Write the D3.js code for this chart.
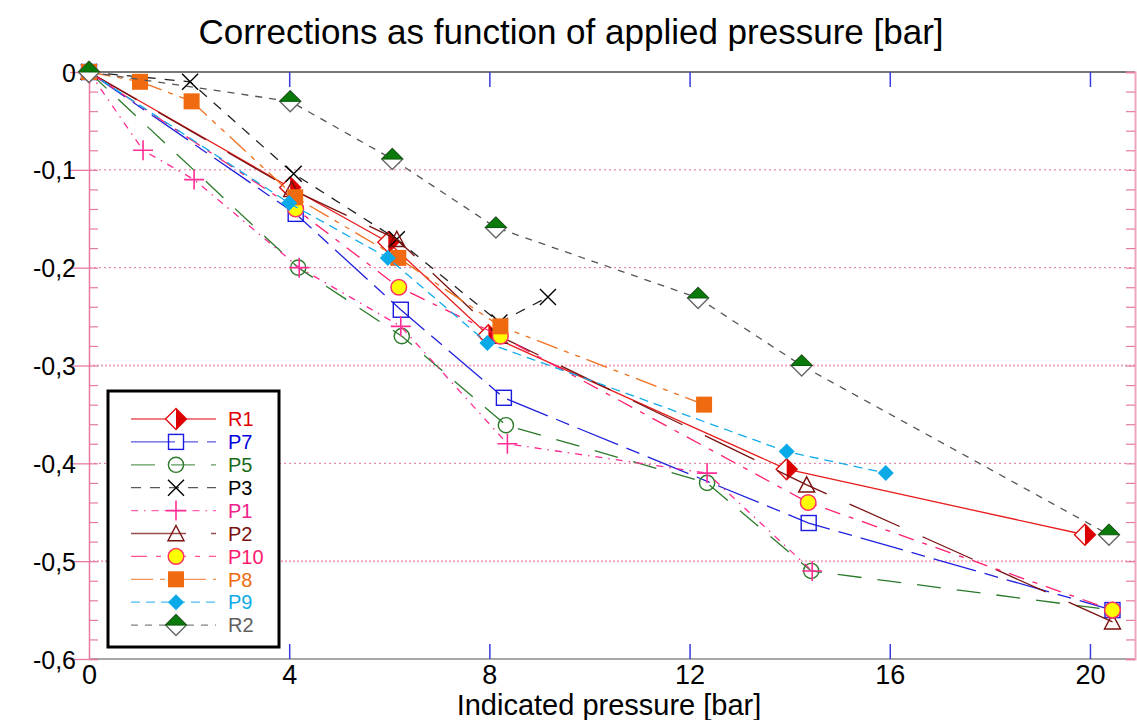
<!DOCTYPE html>
<html>
<head>
<meta charset="utf-8">
<script src="https://cdn.jsdelivr.net/npm/d3@7"></script>
<style>
  body { margin: 0; background: #ffffff; }
  svg { display: block; }
</style>
</head>
<body>
<svg id="chart" width="1137" height="720"></svg>
<script>
// ---- data: indicated pressure [bar] and correction [bar] per instrument ----
const seriesNames = ["R1", "P7", "P5", "P3", "P1", "P2", "P10", "P8", "P9", "R2"];

const r1X  = [0, 4.02, 5.98, 7.98, 13.94, 19.9];
const r1Y  = [0, -0.118, -0.174, -0.269, -0.406, -0.473];

const p7X  = [0, 4.13, 6.23, 8.29, 14.38, 20.45];
const p7Y  = [0, -0.145, -0.243, -0.333, -0.461, -0.55];

const p5X  = [0, 4.18, 6.25, 8.33, 12.35, 14.43, 20.45];
const p5Y  = [0, -0.2, -0.27, -0.361, -0.42, -0.51, -0.55];

const p3X  = [0, 2.02, 4.09, 6.15, 8.2, 9.17];
const p3Y  = [0, -0.01, -0.104, -0.171, -0.256, -0.23];

const p1X  = [0, 1.08, 2.1, 4.2, 6.23, 8.36, 12.35, 14.45];
const p1Y  = [0, -0.08, -0.11, -0.2, -0.26, -0.38, -0.41, -0.51];

const p2X  = [0, 4.05, 6.15, 8.2, 14.34, 20.45];
const p2Y  = [0, -0.12, -0.171, -0.27, -0.422, -0.562];

const p10X = [0, 4.13, 6.19, 8.22, 14.37, 20.45];
const p10Y = [0, -0.14, -0.22, -0.27, -0.44, -0.55];

const p8X  = [0, 1.02, 2.05, 4.12, 6.18, 8.22, 12.29];
const p8Y  = [0, -0.01, -0.03, -0.128, -0.19, -0.26, -0.34];

const p9X  = [0, 4.0, 5.97, 7.96, 13.94, 15.92];
const p9Y  = [0, -0.134, -0.19, -0.277, -0.388, -0.41];

const r2X  = [0, 4.02, 6.06, 8.13, 12.17, 14.24, 20.38];
const r2Y  = [0, -0.03, -0.089, -0.159, -0.231, -0.3, -0.473];

const xTickValues = [0, 4, 8, 12, 16, 20];
const yTickValues = [0, -0.1, -0.2, -0.3, -0.4, -0.5, -0.6];
const gridValues  = [-0.1, -0.2, -0.3, -0.4, -0.5];
const denseGrid   = [-0.3, -0.5];

// ---- appearance of each instrument ----
const styles = {
  R1:  { line: "#e81c1c", dash: null,             marker: "halfDiamond", text: "#e00000" },
  P7:  { line: "#2020dd", dash: "44,9,14,9",      marker: "square",      text: "#0000e0" },
  P5:  { line: "#2a7a2a", dash: "24,16",          marker: "circle",      text: "#1a6b1a" },
  P3:  { line: "#222222", dash: "10,9",           marker: "cross",       text: "#000000" },
  P1:  { line: "#ff2d95", dash: "7,6,1.5,6",      marker: "plus",        text: "#f0208a" },
  P2:  { line: "#7a1212", dash: "55,25",          marker: "triangle",    text: "#7a1010" },
  P10: { line: "#ff2070", dash: "16,9,5,9",       marker: "dot",         text: "#ff1a6e" },
  P8:  { line: "#f07020", dash: "22,7,5,7,5,7",   marker: "filledSquare",text: "#f06a10" },
  P9:  { line: "#12aaea", dash: "9,6",            marker: "smallDiamond",text: "#10aae8" },
  R2:  { line: "#555555", dash: "7,7",            marker: "greenDiamond",text: "#606060" }
};

const xsBy = { R1: r1X, P7: p7X, P5: p5X, P3: p3X, P1: p1X, P2: p2X, P10: p10X, P8: p8X, P9: p9X, R2: r2X };
const ysBy = { R1: r1Y, P7: p7Y, P5: p5Y, P3: p3Y, P1: p1Y, P2: p2Y, P10: p10Y, P8: p8Y, P9: p9Y, R2: r2Y };

const series = seriesNames.map(name => ({
  name,
  style: styles[name],
  points: xsBy[name].map((v, i) => ({ x: v, y: ysBy[name][i] }))
}));

// ---- scales ----
const x = d3.scaleLinear().domain([0, 20.9]).range([89, 1135]);
const y = d3.scaleLinear().domain([0, -0.6]).range([72, 659]);

const svg = d3.select("#chart");
const pink = "#e77aa2";
const isDense = d => denseGrid.some(v => Math.abs(v - d) < 1e-9);

// ---- horizontal dotted grid ----
svg.append("g").selectAll("line").data(gridValues).join("line")
  .attr("x1", x(0)).attr("x2", x.range()[1])
  .attr("y1", d => y(d)).attr("y2", d => y(d))
  .attr("stroke", d => isDense(d) ? "#f0a8c2" : "#e4709a")
  .attr("stroke-width", d => isDense(d) ? 2 : 1)
  .attr("stroke-dasharray", d => isDense(d) ? "2,2" : "2,3");

// ---- frame: top and bottom lines with blue ticks ----
const xr = x.range();
svg.append("line").attr("x1", xr[0]).attr("x2", xr[1]).attr("y1", y(0)).attr("y2", y(0))
  .attr("stroke", "#4a4a4a").attr("stroke-width", 1.5);
svg.append("line").attr("x1", xr[0]).attr("x2", xr[1]).attr("y1", y(-0.6)).attr("y2", y(-0.6))
  .attr("stroke", "#8a8a8a").attr("stroke-width", 1.5);

const topTicks = d3.axisTop(x).tickValues(xTickValues.filter(v => v > 0)).tickSize(-15).tickFormat("");
svg.append("g").attr("transform", `translate(0,${y(0)})`).call(topTicks)
  .call(g => g.select(".domain").remove())
  .call(g => g.selectAll(".tick line").attr("stroke", "#3a3ae0").attr("stroke-width", 1.5));

const bottomTicks = d3.axisBottom(x).tickValues(xTickValues.filter(v => v > 0)).tickSize(-15).tickFormat("");
svg.append("g").attr("transform", `translate(0,${y(-0.6)})`).call(bottomTicks)
  .call(g => g.select(".domain").remove())
  .call(g => g.selectAll(".tick line").attr("stroke", "#3a3ae0").attr("stroke-width", 1.5));

// ---- left and right pink axes with minor ticks ----
const minorTicks = d3.range(0, 31).map(i => -i * 0.02);
const leftMinor = d3.axisRight(y).tickValues(minorTicks).tickSize(9).tickFormat("");
svg.append("g").attr("transform", `translate(${xr[0]},0)`).call(leftMinor)
  .call(g => g.select(".domain").attr("stroke", pink).attr("stroke-width", 1.5))
  .call(g => g.selectAll(".tick line").attr("stroke", pink).attr("stroke-width", 1.2));

const rightMinor = d3.axisLeft(y).tickValues(minorTicks).tickSize(9).tickFormat("");
svg.append("g").attr("transform", `translate(${xr[1]},0)`).call(rightMinor)
  .call(g => g.select(".domain").attr("stroke", "#eea6c0").attr("stroke-width", 2))
  .call(g => g.selectAll(".tick line").attr("stroke", pink).attr("stroke-width", 1.2));

// major y ticks with labels (decimal comma, hyphen minus)
const commaFmt = d3.formatLocale({ decimal: ",", thousands: ".", grouping: [3], currency: ["", ""], minus: "-" }).format(".1f");
const leftMajor = d3.axisLeft(y).tickValues(yTickValues).tickSize(19)
  .tickFormat(d => (d === 0 ? "0" : commaFmt(d)));
svg.append("g").attr("transform", `translate(${xr[0]},0)`).call(leftMajor)
  .call(g => g.select(".domain").remove())
  .call(g => g.selectAll(".tick line").attr("stroke", pink).attr("stroke-width", 1.3))
  .call(g => g.selectAll(".tick text")
    .attr("x", -13)
    .attr("fill", "#000").attr("font-family", "'Liberation Sans', Arial, sans-serif")
    .attr("font-size", 25).attr("dy", "0.36em"));

// x tick labels
const xLabels = d3.axisBottom(x).tickValues(xTickValues).tickSize(0).tickPadding(6).tickFormat(d3.format("d"));
svg.append("g").attr("transform", `translate(0,${y(-0.6)})`).call(xLabels)
  .call(g => g.select(".domain").remove())
  .call(g => g.selectAll(".tick text")
    .attr("fill", "#000").attr("font-family", "'Liberation Sans Narrow', 'Liberation Sans', Arial, sans-serif")
    .attr("font-size", 27));

// ---- markers ----
function drawMarker(g, type, cx, cy) {
  const m = g.append("g").attr("transform", `translate(${cx},${cy})`);
  switch (type) {
    case "halfDiamond": {
      const r = 10.5;
      m.append("path").attr("d", `M0,${-r}L${r},0L0,${r}L${-r},0Z`)
        .attr("fill", "#ffffff").attr("stroke", "#e01010").attr("stroke-width", 1.4);
      m.append("path").attr("d", `M0,${-r}L${r},0L0,${r}Z`).attr("fill", "#dd0000");
      break;
    }
    case "square": {
      const s = 7.5;
      m.append("rect").attr("x", -s).attr("y", -s).attr("width", 2 * s).attr("height", 2 * s)
        .attr("fill", "none").attr("stroke", "#1a1ae0").attr("stroke-width", 1.4);
      break;
    }
    case "circle":
      m.append("circle").attr("r", 7.6).attr("fill", "none").attr("stroke", "#2a7a2a").attr("stroke-width", 1.4);
      break;
    case "cross": {
      const s = 8;
      m.append("path").attr("d", `M${-s},${-s}L${s},${s}M${-s},${s}L${s},${-s}`)
        .attr("stroke", "#000").attr("stroke-width", 1.4);
      break;
    }
    case "plus": {
      const s = 10;
      m.append("path").attr("d", `M${-s},0L${s},0M0,${-s}L0,${s}`)
        .attr("stroke", "#ff2d95").attr("stroke-width", 1.6);
      break;
    }
    case "triangle": {
      const s = 8;
      m.append("path").attr("d", `M0,${-s}L${s},${s * 0.9}L${-s},${s * 0.9}Z`)
        .attr("fill", "none").attr("stroke", "#7a1010").attr("stroke-width", 1.4);
      break;
    }
    case "dot":
      m.append("circle").attr("r", 7.8).attr("fill", "#ffff00").attr("stroke", "#ff3366").attr("stroke-width", 1.5);
      break;
    case "filledSquare": {
      const s = 8;
      m.append("rect").attr("x", -s).attr("y", -s).attr("width", 2 * s).attr("height", 2 * s)
        .attr("fill", "#f06a10");
      break;
    }
    case "smallDiamond": {
      const r = 8;
      m.append("path").attr("d", `M0,${-r}L${r},0L0,${r}L${-r},0Z`).attr("fill", "#0aaae8");
      break;
    }
    case "greenDiamond": {
      const r = 10.5;
      m.append("path").attr("d", `M0,${-r}L${r},0L0,${r}L${-r},0Z`)
        .attr("fill", "#ffffff").attr("stroke", "#666666").attr("stroke-width", 1.4);
      m.append("path").attr("d", `M${-r},0L0,${-r}L${r},0Z`)
        .attr("fill", "#0a7a0a").attr("stroke", "#0a5a0a").attr("stroke-width", 1);
      break;
    }
  }
}

// ---- series lines and markers ----
const lineGen = d3.line().x(d => x(d.x)).y(d => y(d.y));
const plot = svg.append("g");
series.forEach(s => {
  const g = plot.append("g");
  g.append("path").datum(s.points).attr("d", lineGen)
    .attr("fill", "none").attr("stroke", s.style.line).attr("stroke-width", 1.3)
    .attr("stroke-dasharray", s.style.dash);
  s.points.forEach(p => drawMarker(g, s.style.marker, x(p.x), y(p.y)));
});

// ---- legend ----
const legend = svg.append("g");
legend.append("rect").attr("x", 108).attr("y", 391).attr("width", 171).attr("height", 256)
  .attr("fill", "#ffffff").attr("stroke", "#000").attr("stroke-width", 3);
series.forEach((s, i) => {
  const ry = 419 + i * 22.9;
  legend.append("line").attr("x1", 131).attr("x2", 216).attr("y1", ry).attr("y2", ry)
    .attr("stroke", s.style.line).attr("stroke-width", 1.3).attr("stroke-dasharray", s.style.dash)
    .attr("opacity", 0.75);
  drawMarker(legend, s.style.marker, 176, ry);
  legend.append("text").attr("x", 228).attr("y", ry).attr("dy", "0.36em")
    .attr("font-family", "'Liberation Sans', Arial, sans-serif").attr("font-size", 20)
    .attr("fill", s.style.text).text(s.name);
});

// ---- titles ----
svg.append("text").attr("x", 571).attr("y", 44).attr("text-anchor", "middle")
  .attr("font-family", "'Liberation Sans', Arial, sans-serif").attr("font-size", 35)
  .attr("fill", "#000").text("Corrections as function of applied pressure [bar]");

svg.append("text").attr("x", 609).attr("y", 715).attr("text-anchor", "middle")
  .attr("font-family", "'Liberation Sans Narrow', 'Liberation Sans', Arial, sans-serif").attr("font-size", 29)
  .attr("fill", "#000").text("Indicated pressure [bar]");
</script>
</body>
</html>
